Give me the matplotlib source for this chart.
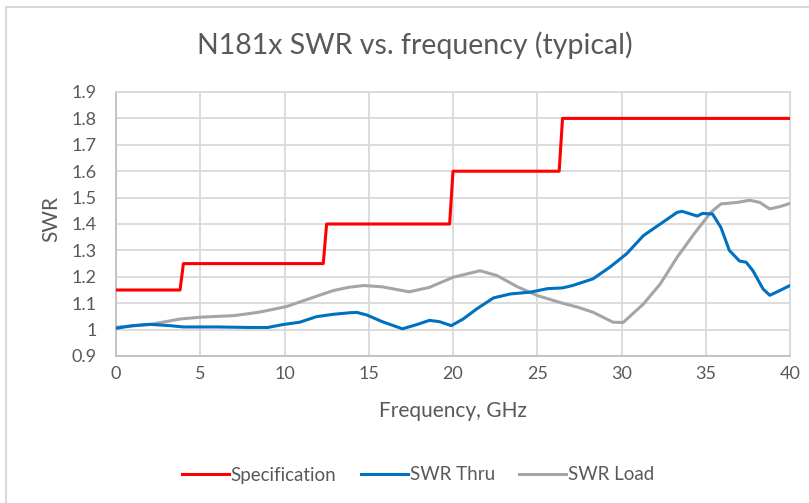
import matplotlib
matplotlib.use("Agg")
import matplotlib.pyplot as plt
from matplotlib.lines import Line2D

plt.rcParams['font.family'] = ['Lato', 'DejaVu Sans']

# ---- data ----
spec_x = [0, 3.8, 4.0, 12.3, 12.5, 19.8, 20.0, 26.3, 26.5, 40]
spec_y = [1.15, 1.15, 1.25, 1.25, 1.4, 1.4, 1.6, 1.6, 1.8, 1.8]

thru_x = [0, 1.0, 2.0, 3.2, 4.0, 6, 8, 9, 9.9, 10.9, 11.9, 12.9, 13.9, 14.3, 14.9,
          15.8, 17.0, 17.9, 18.6, 19.2, 19.9, 20.6, 21.4, 22.4, 23.4, 24.6, 25.6,
          26.5, 27.1, 28.3, 29.3, 30.3, 31.3, 32.3, 33.3, 33.6, 34.5, 34.8, 35.4,
          35.9, 36.4, 37.0, 37.4, 37.8, 38.4, 38.8, 39.4, 40]
thru_y = [1.005, 1.015, 1.02, 1.015, 1.01, 1.01, 1.008, 1.008, 1.019, 1.028, 1.049,
          1.058, 1.064, 1.065, 1.055, 1.03, 1.003, 1.02, 1.035, 1.03, 1.015, 1.04,
          1.078, 1.12, 1.135, 1.142, 1.155, 1.158, 1.167, 1.192, 1.236, 1.287,
          1.356, 1.4, 1.444, 1.448, 1.43, 1.44, 1.438, 1.387, 1.3, 1.26, 1.255,
          1.223, 1.154, 1.13, 1.148, 1.167]

load_x = [0, 2.0, 3.8, 5.0, 7.0, 8.5, 10.1, 11.7, 12.9, 13.8, 14.7, 15.8, 17.4,
          18.6, 20.0, 21.6, 22.6, 23.8, 25.0, 26.5, 27.4, 28.3, 29.5, 30.1, 31.3,
          32.3, 33.3, 34.3, 35.3, 35.9, 36.9, 37.6, 38.2, 38.8, 39.4, 40]
load_y = [1.009, 1.019, 1.04, 1.047, 1.053, 1.066, 1.087, 1.122, 1.148, 1.16,
          1.167, 1.162, 1.143, 1.16, 1.198, 1.223, 1.205, 1.163, 1.129, 1.1, 1.085,
          1.066, 1.028, 1.027, 1.097, 1.173, 1.274, 1.362, 1.444, 1.476, 1.482,
          1.49, 1.482, 1.457, 1.466, 1.478]

x_ticks = [0, 5, 10, 15, 20, 25, 30, 35, 40]
y_ticks = [0.9, 1.0, 1.1, 1.2, 1.3, 1.4, 1.5, 1.6, 1.7, 1.8, 1.9]
y_tick_labels = ["0.9", "1", "1.1", "1.2", "1.3", "1.4", "1.5", "1.6", "1.7", "1.8", "1.9"]

title = "N181x SWR vs. frequency (typical)"
series_names = ["Specification", "SWR Thru", "SWR Load"]
colors = ["#ff0000", "#0070c0", "#a5a5a5"]

# ---- figure ----
W, H = 809, 503
fig = plt.figure(figsize=(W / 100, H / 100), dpi=100)
ax = fig.add_axes([116 / W, 1 - 356 / H, (790 - 116) / W, (356 - 92) / H])

ax.plot(spec_x, spec_y, color=colors[0], lw=2.2, label=series_names[0], zorder=3)
ax.plot(thru_x, thru_y, color=colors[1], lw=2.2, label=series_names[1], zorder=4)
ax.plot(load_x, load_y, color=colors[2], lw=2.2, label=series_names[2], zorder=3)

ax.set_xlim(0, 40)
ax.set_ylim(0.9, 1.9)
ax.set_xticks(x_ticks)
ax.set_yticks(y_ticks)
ax.set_yticklabels(y_tick_labels)
ax.grid(True, color="#d9d9d9", lw=1.3)
ax.set_axisbelow(True)
for s in ax.spines.values():
    s.set_color("#d9d9d9")
    s.set_linewidth(1.3)
ax.spines['left'].set_color("#bfbfbf")
ax.spines['bottom'].set_color("#bfbfbf")
ax.tick_params(length=0, labelsize=13, colors="#595959")
ax.tick_params(axis='y', pad=14)
ax.tick_params(axis='x', pad=7)

ax.set_xlabel("Frequency, GHz", fontsize=15, color="#595959", labelpad=14)
ax.set_ylabel("SWR", fontsize=15, color="#595959")
ax.yaxis.set_label_coords((61 - 116) / 674, (356 - 219) / 264)

fig.text(415 / W, 1 - 45 / H, title, ha="center", va="center", fontsize=20.5, color="#595959")

leg = fig.legend(loc="center", bbox_to_anchor=(418 / W, 1 - 475 / H), ncol=3,
                 frameon=False, fontsize=13.5, handlelength=2.5, handletextpad=0.1,
                 columnspacing=1.3, labelcolor="#595959")

# outer chart border (top and left visible)
fig.add_artist(Line2D([6 / W, 6 / W], [0, 1 - 7 / H], transform=fig.transFigure,
                      color="#d9d9d9", lw=1.5))
fig.add_artist(Line2D([6 / W, 1], [1 - 7 / H, 1 - 7 / H], transform=fig.transFigure,
                      color="#d9d9d9", lw=1.5))

fig.savefig("out.png", dpi=100)
